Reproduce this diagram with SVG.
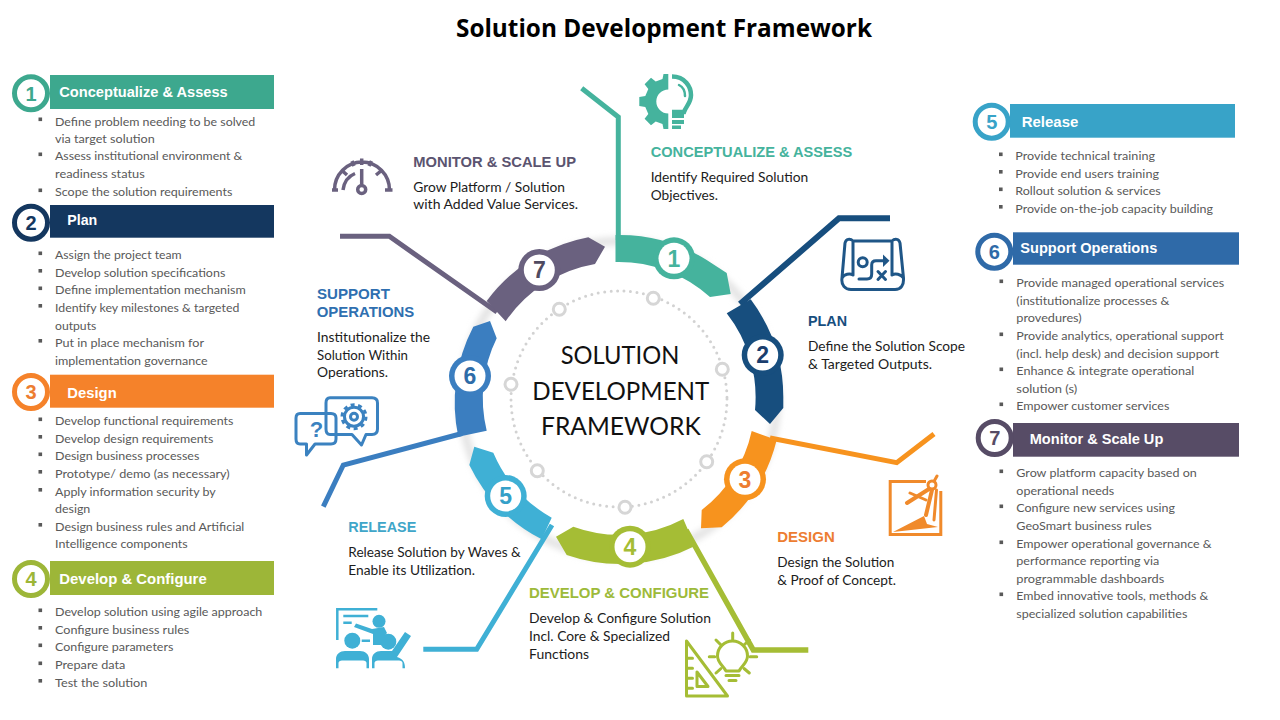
<svg xmlns="http://www.w3.org/2000/svg" width="1280" height="720" viewBox="0 0 1280 720">
<style>
text{font-family:"Lato","Liberation Sans",sans-serif}
.t{font-family:"Open Sans","Liberation Sans",sans-serif;font-weight:700;font-size:25px;fill:#000}
.b{font-size:12px;fill:#595959}
.h{font-family:"Liberation Sans",Arial,sans-serif;font-weight:700;font-size:15px;fill:#fff}
.n{font-family:"Liberation Sans",Arial,sans-serif;font-weight:700;font-size:23px;text-anchor:middle}
.m{font-family:"Liberation Sans",Arial,sans-serif;font-weight:700;font-size:20px;text-anchor:middle}
.l{font-family:"Liberation Sans",Arial,sans-serif;font-weight:700;font-size:15px}
.d{font-size:13.5px;fill:#1c1c1c}
.c{font-size:25.5px;fill:#111}
.sq{fill:#595959}
.ring{fill:#fff;stroke-width:5}
.bw{fill:#fff}
.conn{fill:none;stroke-linejoin:miter}
.dot{fill:#fff;stroke:#d6d6d6;stroke-width:3}
.ic{fill:none;stroke-width:3;stroke-linecap:round;stroke-linejoin:round}
</style>
<defs>
<filter id="soft" x="-20%" y="-20%" width="140%" height="140%"><feGaussianBlur stdDeviation="3"/></filter>
<rect id="s" width="3.6" height="3.6"/>
</defs>
<rect width="1280" height="720" fill="#fff"/>
<text class="t" x="456" y="37" textLength="416" lengthAdjust="spacingAndGlyphs">Solution Development Framework</text>

<g id="hub">
<circle cx="619" cy="399" r="158" fill="none" stroke="#e2e2e2" stroke-width="8" filter="url(#soft)"/>
<circle cx="619" cy="399" r="108" fill="none" stroke="#d2d2d2" stroke-width="3" stroke-linecap="round" stroke-dasharray="0 6.5"/>
<circle class="dot" cx="653.3" cy="298.3" r="6"/><circle class="dot" cx="722.3" cy="369.3" r="6"/><circle class="dot" cx="706.7" cy="461.7" r="6"/><circle class="dot" cx="625" cy="507.3" r="6"/><circle class="dot" cx="537.3" cy="470.7" r="6"/><circle class="dot" cx="511" cy="384.3" r="6"/><circle class="dot" cx="559.3" cy="309.3" r="6"/>
<text class="c" x="560.7" y="364" textLength="118.6" lengthAdjust="spacingAndGlyphs">SOLUTION</text>
<text class="c" x="532.3" y="400" textLength="177" lengthAdjust="spacingAndGlyphs">DEVELOPMENT</text>
<text class="c" x="541" y="435" textLength="159.7" lengthAdjust="spacingAndGlyphs">FRAMEWORK</text>
</g>

<g id="connectors" class="conn">
<path stroke="#45B39D" stroke-width="5" d="M581.7,88.3 618.3,117 V240"/>
<path stroke="#174E7E" stroke-width="6" d="M890,218.3 H839 L740,304"/>
<path stroke="#F7931E" stroke-width="5" d="M770,438 896.7,462.7 934,434"/>
<path stroke="#A5BD35" stroke-width="5.5" d="M686,530 753.3,650 H808.3"/>
<path stroke="#3FB0D5" stroke-width="5" d="M552,525 476.7,649.3 H423.3"/>
<path stroke="#3B7EC0" stroke-width="5" d="M462,433.5 343.3,465 323.3,506.7"/>
<path stroke="#6A617F" stroke-width="5" d="M340,236.3 H389.3 L497,312"/>
</g>

<g id="segment-1">
<path fill="#45B39D" d="M615.5,235 A164,164 0 0 1 706.7,260 L726.7,273 730.7,294 710,297 A136,136 0 0 0 615.5,262 Z"/>
<circle cx="674" cy="258.3" r="21" fill="#45B39D"/><circle class="bw" cx="674" cy="258.3" r="15.5"/>
<text class="n" x="674" y="266.5" fill="#45B39D">1</text>
<path fill="#45B39D" d="M668.3,74 L663.5,74 662.5,79 655.7,81.5 651,77.8 644.6,84.2 648.3,88.9 645.3,96 639.3,97 639.3,106 645.3,107 648.3,114.1 644.6,118.8 651,125.2 655.7,121.5 662.5,124 663.5,129 668.3,129 668.3,113.5 A12,12 0 0 1 668.3,89.5 Z"/>
<path fill="none" stroke="#45B39D" stroke-width="4.5" d="M672,76.5 C685,76.5 691,87 691,95 C691,103 686,106 684,112 H672"/>
<path fill="none" stroke="#45B39D" stroke-width="2.5" stroke-linecap="round" d="M679,85 C683,87 685,91 685,96"/>
<path fill="#45B39D" d="M672,114h12v4h-12zM672,120h12v4h-12zM672,125.500h9v3.500h-9z"/>
<text class="l" x="650.700" y="157.300" fill="#45B39D" textLength="201.600" lengthAdjust="spacingAndGlyphs">CONCEPTUALIZE &amp; ASSESS</text>
<text class="d" x="650.700" y="181.700" textLength="157.600" lengthAdjust="spacingAndGlyphs">Identify Required Solution</text>
<text class="d" x="650.700" y="199.700" textLength="67.300" lengthAdjust="spacingAndGlyphs">Objectives.</text>
</g>

<g id="segment-2">
<path fill="#174E7E" d="M750.7,299.3 A164,164 0 0 1 783.3,400 L783.3,408 770,424 755,410 A136,136 0 0 0 726.7,313.3 Z"/>
<circle cx="762.700" cy="355" r="21" fill="#174E7E"/><circle class="bw" cx="762.700" cy="355" r="15.500"/>
<text class="n" x="762.700" y="363" fill="#1A3E6E">2</text>
<g class="ic" stroke="#1F5687">
<path d="M853,241 H892 M853,241 C850,238 846,239 845,243 L842,278 C841,285 845,289.500 851,289.500 H895 C901,289.500 904,285 903.500,278 L900,243 C899,239 895,238 892,241 V275 M853,241 V275 M842,278 C844,274 850,273 853,275 M903.500,278 C901,274 895,273 892,275"/>
<circle cx="862.700" cy="262.300" r="4.500"/>
<path d="M859,279 H867 C870,279 871.700,277 871.700,274 V265 C871.700,262 873,260.700 876,260.700 H884 M878,271.500 885.500,279.500 M885.500,271.500 878,279.500"/>
</g>
<path fill="#1F5687" d="M883,254.500 889.500,260.700 883,267Z"/>
<text class="l" x="808" y="326" fill="#174E7E" textLength="39" lengthAdjust="spacingAndGlyphs">PLAN</text>
<text class="d" x="808" y="351" textLength="157" lengthAdjust="spacingAndGlyphs">Define the Solution Scope</text>
<text class="d" x="808" y="369" textLength="124" lengthAdjust="spacingAndGlyphs">&amp; Targeted Outputs.</text>
</g>

<g id="segment-3">
<path fill="#F7931E" d="M776.7,440 A164,164 0 0 1 721.700,527.300 L701,528.300 701.700,510 A136,136 0 0 0 751.700,431 Z"/>
<circle cx="745" cy="479.300" r="21" fill="#F7931E"/><circle class="bw" cx="745" cy="479.300" r="15.500"/>
<text class="n" x="745" y="487.500" fill="#ED7D31">3</text>
<path fill="none" stroke="#F08A2B" stroke-width="3" d="M926,481.500 H890.200 V534.500 H940.800 V491"/>
<path fill="#F08A2B" d="M893,532 924,516 927,524 938,527 893,532Z"/>
<g fill="none" stroke="#F08A2B" stroke-linecap="round">
<path stroke-width="4" d="M929,489 907,503M932,490 926,515"/>
<path stroke-width="3" d="M910,493 926,500M936.500,490 934,520M937,476 934.500,480.500"/>
<circle cx="932" cy="485" r="4" stroke-width="3"/>
</g>
<text class="l" x="777.300" y="542" fill="#ED7D31" textLength="57.400" lengthAdjust="spacingAndGlyphs">DESIGN</text>
<text class="d" x="777.300" y="567.300" textLength="117" lengthAdjust="spacingAndGlyphs">Design the Solution</text>
<text class="d" x="777.300" y="585.300" textLength="118.700" lengthAdjust="spacingAndGlyphs">&amp; Proof of Concept.</text>
</g>

<g id="segment-4">
<path fill="#A5BD35" d="M695,546 A164,164 0 0 1 566.700,555 L556,536.700 573.300,526.700 A136,136 0 0 0 683.300,519 Z"/>
<circle cx="630" cy="546.700" r="21" fill="#A5BD35"/><circle class="bw" cx="630" cy="546.700" r="15.500"/>
<text class="n" x="630" y="555" fill="#A5BD35">4</text>
<g class="ic" stroke="#A5BD35">
<path d="M686.500,641 V696 H727.500 Z M697,672 V686.500 H708 Z M686.500,658.300h6M686.500,668.300h6M686.500,678.300h6M686.500,688.300h6"/>
<path d="M726,671 C723,665 717.500,663 717.500,656 A15,15 0 0 1 747.500,656 C747.500,663 742,665 739,671 Z M726,675.500 H739 M729,680.500 H736"/>
<path d="M732.700,633V640M709.300,656.700H714.700M750,656.700H756.700M716,640L721,645M749.300,640L744,645M716,673L721,668.500M749.300,673L744,668.500"/>
</g>
<text class="l" x="529" y="598" fill="#9DBA3A" textLength="180" lengthAdjust="spacingAndGlyphs">DEVELOP &amp; CONFIGURE</text>
<text class="d" x="529" y="623" textLength="182" lengthAdjust="spacingAndGlyphs">Develop &amp; Configure Solution</text>
<text class="d" x="529" y="641" textLength="141" lengthAdjust="spacingAndGlyphs">Incl. Core &amp; Specialized</text>
<text class="d" x="529" y="659" textLength="60" lengthAdjust="spacingAndGlyphs">Functions</text>
</g>

<g id="segment-5">
<path fill="#3FB0D5" d="M541.700,539.300 A164,164 0 0 1 469.300,465 L474.300,446.700 493.300,452.700 A136,136 0 0 0 551.700,517.700 Z"/>
<circle cx="505.700" cy="496" r="21" fill="#3FB0D5"/><circle class="bw" cx="505.700" cy="496" r="15.500"/>
<text class="n" x="505.700" y="504.300" fill="#35A0C8">5</text>
<path fill="none" stroke="#3FB0D5" stroke-width="2.500" d="M337.300,640 V609.300 H377.300 M343.300,616 H368.300 M343.300,622.700 H351.700 M361.700,640.700 H370"/>
<g fill="#3FB0D5">
<circle cx="379" cy="621.300" r="6.500"/><circle cx="352.300" cy="640.700" r="8"/><circle cx="388.300" cy="641.700" r="8"/>
<path d="M354,627 356,623.500 372,629 384,627 387,633 381,640 381,645 373,645 373,634Z"/>
<path d="M336,668.300 V659 C336,654 340,651 345,651 H360 C365,651 369,654 369,659 V668.300 H366.500 V663 C366.500,661.500 365,660.500 363,660.500 H342 C340,660.500 338.500,661.500 338.500,663 V668.300Z"/>
<path d="M372,668.300 V659 C372,654 376,651 381,651 H392 L405,632 411,636 397,657 C403,659 405,662 405,668.300 H402.500 V663 C402.500,661.500 401,660.500 399,660.500 H378 C376,660.500 374.500,661.500 374.500,663 V668.300Z"/>
</g>
<text class="l" x="348.300" y="532" fill="#3FA6C9" textLength="68" lengthAdjust="spacingAndGlyphs">RELEASE</text>
<text class="d" x="348.300" y="556.700" textLength="172.400" lengthAdjust="spacingAndGlyphs">Release Solution by Waves &amp;</text>
<text class="d" x="348.300" y="574.700" textLength="126.700" lengthAdjust="spacingAndGlyphs">Enable its Utilization.</text>
</g>

<g id="segment-6">
<path fill="#3B7EC0" d="M458.300,436.700 A164,164 0 0 1 473.300,326.700 L490,321 496.700,338.300 A136,136 0 0 0 486.700,430.700 Z"/>
<circle cx="470" cy="376" r="21" fill="#3B7EC0"/><circle class="bw" cx="470" cy="376" r="15.500"/>
<text class="n" x="470" y="384.300" fill="#2E6CA8">6</text>
<g class="ic" stroke="#3B82C0" fill="#fff">
<path d="M330,397.800 H372 Q377.500,397.800 377.500,403 V429 Q377.500,434.500 372,434.500 H366 L361.500,445 352,434.500 H330 Q326,434.500 326,429 V403 Q326,397.800 330,397.800Z"/>
<path d="M300,413.500 H331 Q336,413.500 336,418 V439 Q336,444 331,444 H315 L306.500,455 306.500,444 H300 Q296,444 296,439 V418 Q296,413.500 300,413.500Z"/>
<circle cx="354" cy="416.700" r="9.500"/><circle cx="354" cy="416.700" r="3.500"/>
</g>
<circle cx="354" cy="416.700" r="12" fill="none" stroke="#3B82C0" stroke-width="3" stroke-dasharray="4 3.540"/>
<text x="316.500" y="437" text-anchor="middle" font-size="22" font-weight="700" fill="#3B82C0" style="font-family:'Liberation Sans',Arial,sans-serif">?</text>
<text class="l" x="317" y="299" fill="#2F6FB0" textLength="73" lengthAdjust="spacingAndGlyphs">SUPPORT</text>
<text class="l" x="316.700" y="316.700" fill="#2F6FB0" textLength="97.600" lengthAdjust="spacingAndGlyphs">OPERATIONS</text>
<text class="d" x="317" y="342" textLength="113" lengthAdjust="spacingAndGlyphs">Institutionalize the</text>
<text class="d" x="317" y="360" textLength="91" lengthAdjust="spacingAndGlyphs">Solution Within</text>
<text class="d" x="317" y="377" textLength="71" lengthAdjust="spacingAndGlyphs">Operations.</text>
</g>

<g id="segment-7">
<path fill="#6A617F" d="M486.700,301 A164,164 0 0 1 588.300,237.300 L605,246.700 595,264 A136,136 0 0 0 505.700,321.300 Z"/>
<circle cx="539.300" cy="270" r="21" fill="#6A617F"/><circle class="bw" cx="539.300" cy="270" r="15.500"/>
<text class="n" x="539.300" y="278.300" fill="#4F4A60">7</text>
<g fill="none" stroke="#6A617F" stroke-width="3.500">
<path d="M334.500,190 A27.500,28 0 0 1 389.500,190 M332,190 H338 M385,190 H392.500 M361.700,158.500 V165 M361.700,169 V184 M343,190 C344,182 349,176 355,173.500 M342,170.500 347,175 M381.500,170.500 376,175 M352,161 354,166 M371.500,161 369,166"/>
<circle cx="361.700" cy="189.500" r="4"/>
</g>
<text class="l" x="413.300" y="166.700" fill="#5B5470" textLength="162.700" lengthAdjust="spacingAndGlyphs">MONITOR &amp; SCALE UP</text>
<text class="d" x="413.300" y="191.700" textLength="151.700" lengthAdjust="spacingAndGlyphs">Grow Platform / Solution</text>
<text class="d" x="413.300" y="209.300" textLength="164.700" lengthAdjust="spacingAndGlyphs">with Added Value Services.</text>
</g>

<g id="panel-1">
<rect x="50" y="75" width="224" height="34" fill="#3DA88E"/>
<circle class="ring" cx="31" cy="93.300" r="16.500" stroke="#3DA88E"/>
<text class="m" x="31" y="100.500" fill="#3DA88E">1</text>
<text class="h" x="59.300" y="96.700" textLength="168.400" lengthAdjust="spacingAndGlyphs">Conceptualize &amp; Assess</text>
<g class="sq"><use href="#s" x="38.500" y="117.500"/><use href="#s" x="38.500" y="152.500"/><use href="#s" x="38.500" y="188.500"/></g>
<text class="b" x="55" y="125.700" textLength="200.300" lengthAdjust="spacingAndGlyphs">Define problem needing to be solved</text>
<text class="b" x="55" y="142.700" textLength="99.700" lengthAdjust="spacingAndGlyphs">via target solution</text>
<text class="b" x="55" y="160" textLength="187.300" lengthAdjust="spacingAndGlyphs">Assess institutional environment &amp;</text>
<text class="b" x="55" y="178" textLength="89.700" lengthAdjust="spacingAndGlyphs">readiness status</text>
<text class="b" x="55" y="196" textLength="177.300" lengthAdjust="spacingAndGlyphs">Scope the solution requirements</text>
</g>

<g id="panel-2">
<rect x="50" y="205" width="224" height="32.700" fill="#14375F"/>
<circle class="ring" cx="31" cy="222.700" r="16.500" stroke="#14375F"/>
<text class="m" x="31" y="230" fill="#14375F">2</text>
<text class="h" x="67.300" y="225" textLength="30" lengthAdjust="spacingAndGlyphs">Plan</text>
<g class="sq"><use href="#s" x="38.500" y="251.500"/><use href="#s" x="38.500" y="269"/><use href="#s" x="38.500" y="286.500"/><use href="#s" x="38.500" y="304"/><use href="#s" x="38.500" y="339"/></g>
<text class="b" x="55" y="259" textLength="126.700" lengthAdjust="spacingAndGlyphs">Assign the project team</text>
<text class="b" x="55" y="276.700" textLength="170.300" lengthAdjust="spacingAndGlyphs">Develop solution specifications</text>
<text class="b" x="55" y="294" textLength="190.700" lengthAdjust="spacingAndGlyphs">Define implementation mechanism</text>
<text class="b" x="55" y="311.700" textLength="184.300" lengthAdjust="spacingAndGlyphs">Identify key milestones &amp; targeted</text>
<text class="b" x="55" y="330" textLength="41.300" lengthAdjust="spacingAndGlyphs">outputs</text>
<text class="b" x="55" y="346.700" textLength="149" lengthAdjust="spacingAndGlyphs">Put in place mechanism for</text>
<text class="b" x="55" y="365" textLength="152.700" lengthAdjust="spacingAndGlyphs">implementation governance</text>
</g>

<g id="panel-3">
<rect x="50" y="374.700" width="224" height="33" fill="#F5822A"/>
<circle class="ring" cx="31" cy="392" r="16.500" stroke="#F5822A"/>
<text class="m" x="31" y="399.300" fill="#ED7D31">3</text>
<text class="h" x="67.300" y="398" textLength="49.400" lengthAdjust="spacingAndGlyphs">Design</text>
<g class="sq"><use href="#s" x="38.500" y="417.500"/><use href="#s" x="38.500" y="435"/><use href="#s" x="38.500" y="452.500"/><use href="#s" x="38.500" y="470"/><use href="#s" x="38.500" y="488"/><use href="#s" x="38.500" y="523"/></g>
<text class="b" x="55" y="425" textLength="178.300" lengthAdjust="spacingAndGlyphs">Develop functional requirements</text>
<text class="b" x="55" y="442.700" textLength="158.300" lengthAdjust="spacingAndGlyphs">Develop design requirements</text>
<text class="b" x="55" y="460" textLength="144.300" lengthAdjust="spacingAndGlyphs">Design business processes</text>
<text class="b" x="55" y="477.700" textLength="174.700" lengthAdjust="spacingAndGlyphs">Prototype/ demo (as necessary)</text>
<text class="b" x="55" y="495.700" textLength="160.700" lengthAdjust="spacingAndGlyphs">Apply information security by</text>
<text class="b" x="55" y="513" textLength="35.300" lengthAdjust="spacingAndGlyphs">design</text>
<text class="b" x="55" y="530.700" textLength="189.300" lengthAdjust="spacingAndGlyphs">Design business rules and Artificial</text>
<text class="b" x="55" y="548.300" textLength="132.700" lengthAdjust="spacingAndGlyphs">Intelligence components</text>
</g>

<g id="panel-4">
<rect x="50" y="561" width="224" height="34" fill="#9DB638"/>
<circle class="ring" cx="31" cy="579" r="16.500" stroke="#9DB638"/>
<text class="m" x="31" y="586.300" fill="#9DB638">4</text>
<text class="h" x="59.300" y="584" textLength="147.400" lengthAdjust="spacingAndGlyphs">Develop &amp; Configure</text>
<g class="sq"><use href="#s" x="38.500" y="608.500"/><use href="#s" x="38.500" y="626"/><use href="#s" x="38.500" y="643.500"/><use href="#s" x="38.500" y="661.500"/><use href="#s" x="38.500" y="679"/></g>
<text class="b" x="55" y="616" textLength="207.300" lengthAdjust="spacingAndGlyphs">Develop solution using agile approach</text>
<text class="b" x="55" y="633.700" textLength="134.300" lengthAdjust="spacingAndGlyphs">Configure business rules</text>
<text class="b" x="55" y="651" textLength="118.300" lengthAdjust="spacingAndGlyphs">Configure parameters</text>
<text class="b" x="55" y="669" textLength="70.300" lengthAdjust="spacingAndGlyphs">Prepare data</text>
<text class="b" x="55" y="686.700" textLength="92.300" lengthAdjust="spacingAndGlyphs">Test the solution</text>
</g>

<g id="panel-5">
<rect x="1010" y="104" width="225" height="33.700" fill="#38A3C8"/>
<circle class="ring" cx="991.700" cy="121.700" r="16.500" stroke="#38A3C8"/>
<text class="m" x="991.700" y="129" fill="#38A3C8">5</text>
<text class="h" x="1021.700" y="126.700" textLength="56.600" lengthAdjust="spacingAndGlyphs">Release</text>
<g class="sq"><use href="#s" x="999" y="152.500"/><use href="#s" x="999" y="170"/><use href="#s" x="999" y="187.500"/><use href="#s" x="999" y="205"/></g>
<text class="b" x="1015.300" y="160" textLength="139.700" lengthAdjust="spacingAndGlyphs">Provide technical training</text>
<text class="b" x="1015.300" y="177.700" textLength="143.700" lengthAdjust="spacingAndGlyphs">Provide end users training</text>
<text class="b" x="1015.300" y="195" textLength="145.400" lengthAdjust="spacingAndGlyphs">Rollout solution &amp; services</text>
<text class="b" x="1015.300" y="213" textLength="197.700" lengthAdjust="spacingAndGlyphs">Provide on-the-job capacity building</text>
</g>

<g id="panel-6">
<rect x="1013" y="232.300" width="226" height="32.400" fill="#2F6AA8"/>
<circle class="ring" cx="994.300" cy="251.700" r="16.500" stroke="#2F6AA8"/>
<text class="m" x="994.300" y="259" fill="#2F6AA8">6</text>
<text class="h" x="1020.300" y="253.300" textLength="137" lengthAdjust="spacingAndGlyphs">Support Operations</text>
<g class="sq"><use href="#s" x="999.500" y="279.500"/><use href="#s" x="999.500" y="332.500"/><use href="#s" x="999.500" y="367.500"/><use href="#s" x="999.500" y="402.500"/></g>
<text class="b" x="1016.300" y="287" textLength="208" lengthAdjust="spacingAndGlyphs">Provide managed operational services</text>
<text class="b" x="1016.300" y="305" textLength="153" lengthAdjust="spacingAndGlyphs">(institutionalize processes &amp;</text>
<text class="b" x="1016.300" y="322.300" textLength="65.400" lengthAdjust="spacingAndGlyphs">provedures)</text>
<text class="b" x="1016.300" y="340" textLength="207.400" lengthAdjust="spacingAndGlyphs">Provide analytics, operational support</text>
<text class="b" x="1016.300" y="358" textLength="202.700" lengthAdjust="spacingAndGlyphs">(incl. help desk) and decision support</text>
<text class="b" x="1016.300" y="375" textLength="178" lengthAdjust="spacingAndGlyphs">Enhance &amp; integrate operational</text>
<text class="b" x="1016.300" y="392.700" textLength="61" lengthAdjust="spacingAndGlyphs">solution (s)</text>
<text class="b" x="1016.300" y="410" textLength="153" lengthAdjust="spacingAndGlyphs">Empower customer services</text>
</g>

<g id="panel-7">
<rect x="1013" y="423" width="226" height="33.700" fill="#574C66"/>
<circle class="ring" cx="994.700" cy="438" r="16.500" stroke="#574C66"/>
<text class="m" x="994.700" y="445.300" fill="#574C66">7</text>
<text class="h" x="1029.700" y="444" textLength="133.600" lengthAdjust="spacingAndGlyphs">Monitor &amp; Scale Up</text>
<g class="sq"><use href="#s" x="999.500" y="469.500"/><use href="#s" x="999.500" y="504.500"/><use href="#s" x="999.500" y="540.500"/><use href="#s" x="999.500" y="592.500"/></g>
<text class="b" x="1016.300" y="477" textLength="180.400" lengthAdjust="spacingAndGlyphs">Grow platform capacity based on</text>
<text class="b" x="1016.300" y="495" textLength="98" lengthAdjust="spacingAndGlyphs">operational needs</text>
<text class="b" x="1016.300" y="512.300" textLength="158.700" lengthAdjust="spacingAndGlyphs">Configure new services using</text>
<text class="b" x="1016.300" y="530" textLength="135.400" lengthAdjust="spacingAndGlyphs">GeoSmart business rules</text>
<text class="b" x="1016.300" y="548" textLength="195.400" lengthAdjust="spacingAndGlyphs">Empower operational governance &amp;</text>
<text class="b" x="1016.300" y="565.300" textLength="143" lengthAdjust="spacingAndGlyphs">performance reporting via</text>
<text class="b" x="1016.300" y="583" textLength="148" lengthAdjust="spacingAndGlyphs">programmable dashboards</text>
<text class="b" x="1016.300" y="600" textLength="192" lengthAdjust="spacingAndGlyphs">Embed innovative tools, methods &amp;</text>
<text class="b" x="1016.300" y="618" textLength="171" lengthAdjust="spacingAndGlyphs">specialized solution capabilities</text>
</g>
</svg>
